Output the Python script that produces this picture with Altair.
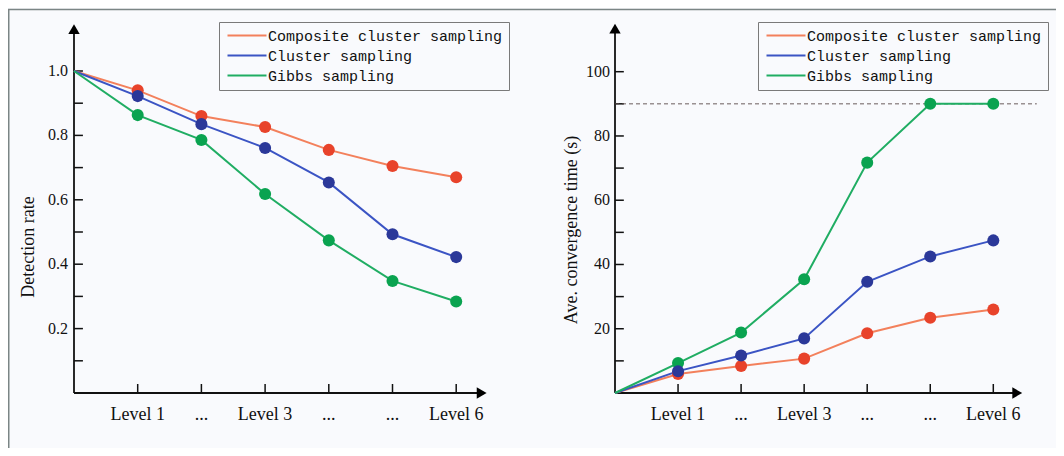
import altair as alt
import pandas as pd

# ---------------- data ----------------
positions = [0, 1, 2, 3, 4, 5, 6]
tick_positions = [1, 2, 3, 4, 5, 6]
level_labels = ["Level 1", "...", "Level 3", "...", "...", "Level 6"]
series = ["Composite cluster sampling", "Cluster sampling", "Gibbs sampling"]
line_colors = ["#f3805c", "#3b54c4", "#20ad63"]
dot_colors = ["#e8432b", "#2b3899", "#0aa350"]

composite_det = [1.0, 0.94, 0.86, 0.826, 0.755, 0.705, 0.67]
cluster_det = [1.0, 0.922, 0.835, 0.761, 0.654, 0.493, 0.422]
gibbs_det = [1.0, 0.863, 0.786, 0.618, 0.474, 0.348, 0.284]

composite_time = [0, 5.9, 8.4, 10.7, 18.6, 23.4, 26.0]
cluster_time = [0, 6.8, 11.7, 17.0, 34.6, 42.5, 47.5]
gibbs_time = [0, 9.3, 18.8, 35.4, 71.7, 90.0, 90.0]

det_ticks = [0.1, 0.2, 0.3, 0.4, 0.5, 0.6, 0.7, 0.8, 0.9, 1.0]
det_labels = [0.2, 0.4, 0.6, 0.8, 1.0]
time_ticks = [10, 20, 30, 40, 50, 60, 70, 80, 90, 100]
time_labels = [20, 40, 60, 80, 100]
time_limit = 90

left_title = "Detection rate"
right_title = "Ave. convergence time (s)"

SERIF = "Liberation Serif"
MONO = "Liberation Mono"
INK = "#111111"


def long_df(values_by_series):
    rows = []
    for name, vals in values_by_series:
        for p, v in zip(positions, vals):
            rows.append({"series": name, "pos": p, "value": v})
    return pd.DataFrame(rows)


def panel(values, xrange, ydomain, yrange, ticks, labels, label_fmt,
          x_end, y_end, tick_len_x, tick_len_y, legend_x, title, title_x,
          title_y, ylabel_dx, limit=None):
    xs = alt.Scale(domain=[0, 6], range=xrange, nice=False, zero=False)
    ys = alt.Scale(domain=ydomain, range=yrange, nice=False, zero=False)

    df = long_df(values)
    # draw order of dots: orange, green, blue (blue on top)
    order = {series[0]: 0, series[2]: 1, series[1]: 2}
    dots = df[df["pos"] > 0].copy()
    dots["o"] = dots["series"].map(order)
    dots = dots.sort_values(["o", "pos"]).drop(columns="o")

    one = pd.DataFrame({"a": [0]})

    x_axis = alt.Chart(one).mark_rule(color=INK, strokeWidth=1.8).encode(
        x=alt.XDatum(0, scale=xs, axis=None), x2=alt.X2Datum(x_end),
        y=alt.YDatum(0, scale=ys, axis=None))
    y_axis = alt.Chart(one).mark_rule(color=INK, strokeWidth=1.8).encode(
        x=alt.XDatum(0, scale=xs, axis=None),
        y=alt.YDatum(0, scale=ys, axis=None), y2=alt.Y2Datum(y_end))
    arrow_x = alt.Chart(one).mark_point(shape="triangle-right", filled=True,
                                        size=130, color="black", opacity=1).encode(
        x=alt.XDatum(x_end, scale=xs, axis=None),
        y=alt.YDatum(0, scale=ys, axis=None))
    arrow_y = alt.Chart(one).mark_point(shape="triangle-up", filled=True,
                                        size=130, color="black", opacity=1).encode(
        x=alt.XDatum(0, scale=xs, axis=None),
        y=alt.YDatum(y_end, scale=ys, axis=None))

    xticks = alt.Chart(pd.DataFrame({"pos": tick_positions})).mark_rule(
        color=INK, strokeWidth=1.5).encode(
        x=alt.X("pos:Q", scale=xs, axis=None),
        y=alt.YDatum(0, scale=ys, axis=None), y2=alt.Y2Datum(tick_len_y))
    yticks = alt.Chart(pd.DataFrame({"v": ticks})).mark_rule(
        color=INK, strokeWidth=1.5).encode(
        y=alt.Y("v:Q", scale=ys, axis=None),
        x=alt.XDatum(0, scale=xs, axis=None), x2=alt.X2Datum(tick_len_x))

    xlab = alt.Chart(pd.DataFrame({"pos": tick_positions, "lab": level_labels})).mark_text(
        font=SERIF, fontSize=18, color=INK, dy=22, baseline="middle", align="center").encode(
        x=alt.X("pos:Q", scale=xs, axis=None),
        y=alt.YDatum(0, scale=ys, axis=None), text="lab:N")
    ylab = alt.Chart(pd.DataFrame({"v": labels})).mark_text(
        font=SERIF, fontSize=16, color=INK, dx=ylabel_dx, align="right",
        baseline="middle").encode(
        y=alt.Y("v:Q", scale=ys, axis=None),
        x=alt.XDatum(0, scale=xs, axis=None),
        text=alt.Text("v:Q", format=label_fmt))

    ytitle = alt.Chart(pd.DataFrame({"t": [title]})).mark_text(
        font=SERIF, fontSize=18, color=INK, angle=270, align="center",
        baseline="middle").encode(x=alt.value(title_x), y=alt.value(title_y), text="t:N")

    lines = alt.Chart(df).mark_line(strokeWidth=2).encode(
        x=alt.X("pos:Q", scale=xs, axis=None),
        y=alt.Y("value:Q", scale=ys, axis=None),
        stroke=alt.Stroke("series:N",
                          scale=alt.Scale(domain=series, range=line_colors),
                          legend=alt.Legend(
                              title=None, orient="none", legendX=legend_x, legendY=14,
                              direction="vertical",
                              strokeColor="#7a7a7a", fillColor="#f9fafd",
                              padding=6, symbolType="M-1,0H6.8", symbolSize=100,
                              symbolStrokeWidth=2, labelFont=MONO, labelFontSize=15,
                              labelColor="#111111", labelOffset=28, rowPadding=4,
                              labelLimit=400)),
    )
    points = alt.Chart(dots).mark_circle(size=145, opacity=1).encode(
        x=alt.X("pos:Q", scale=xs, axis=None),
        y=alt.Y("value:Q", scale=ys, axis=None),
        fill=alt.Fill("series:N", scale=alt.Scale(domain=series, range=dot_colors),
                      legend=None),
    )

    layers = [x_axis, y_axis, arrow_x, arrow_y, xticks, yticks, xlab, ylab, ytitle]
    if limit is not None:
        layers.append(alt.Chart(pd.DataFrame({"v": [limit]})).mark_rule(
            color="#5a4c4c", strokeWidth=0.9, strokeDash=[4, 3]).encode(
            y=alt.Y("v:Q", scale=ys, axis=None),
            x=alt.XDatum(0, scale=xs, axis=None), x2=alt.X2Datum(6.69)))
    layers += [lines, points]
    return alt.layer(*layers)


left = panel([(series[0], composite_det), (series[1], cluster_det), (series[2], gibbs_det)],
             xrange=[66, 448.2], ydomain=[0, 1], yrange=[385, 63],
             ticks=det_ticks, labels=det_labels, label_fmt=".1f",
             x_end=6.4, y_end=1.13, tick_len_x=0.14, tick_len_y=0.028,
             legend_x=211, title=left_title, title_x=21, title_y=239, ylabel_dx=-6)

right = panel([(series[0], composite_time), (series[1], cluster_time), (series[2], gibbs_time)],
              xrange=[607, 985.3], ydomain=[0, 100], yrange=[385, 63.7],
              ticks=time_ticks, labels=time_labels, label_fmt="d",
              x_end=6.38, y_end=113.4, tick_len_x=0.14, tick_len_y=2.8,
              legend_x=750, title=right_title, title_x=564, title_y=222, ylabel_dx=-5,
              limit=time_limit)

frame = alt.Chart(pd.DataFrame({"a": [0]})).mark_rect(
    fillOpacity=0, stroke="#7b8585", strokeWidth=1.5).encode(
    x=alt.value(0.75), x2=alt.value(1300), y=alt.value(1.5), y2=alt.value(700))

chart = alt.layer(frame, left, right).resolve_scale(
    x="independent", y="independent", stroke="independent", fill="independent"
).resolve_legend(stroke="independent").properties(
    width=1048, height=440, padding=0, background="#f9fafd",
    autosize=alt.AutoSizeParams(type="none"),
).configure_view(strokeWidth=0)

chart.save("out.html", embed_options={"renderer": "svg", "actions": False})
